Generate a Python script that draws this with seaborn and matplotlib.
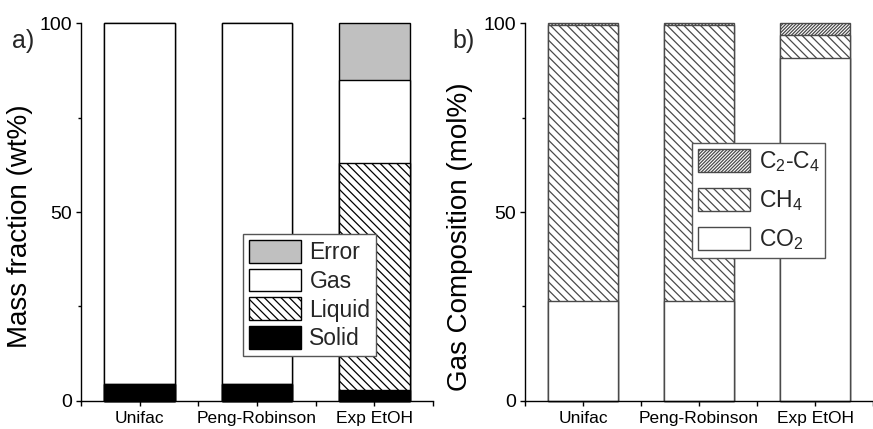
"""
Stacked bar comparison of product distribution (a) and gas composition (b)
for Unifac, Peng-Robinson and the experimental EtOH run.
"""

import matplotlib
matplotlib.use("Agg")
import matplotlib.pyplot as plt
import numpy as np
import seaborn as sns

CATEGORIES = ["Unifac", "Peng-Robinson", "Exp EtOH"]

# panel a) mass fraction (wt%), bottom to top
SOLID = [4.5, 4.5, 2.9]
LIQUID = [0.0, 0.0, 60.1]
GAS = [95.5, 95.5, 22.0]
ERROR = [0.0, 0.0, 15.0]

# panel b) gas composition (mol%), bottom to top
CO2 = [26.5, 26.5, 90.8]
CH4 = [73.1, 73.1, 6.0]
C2_C4 = [0.4, 0.4, 3.2]


def stacked_bars(ax, layers, edge):
    """Draw cumulative totals from the top layer down so each one covers the next."""
    tops = np.cumsum([layer[0] for layer in layers], axis=0)
    for (vals, label, face, hatch), top in reversed(list(zip(layers, tops))):
        sns.barplot(x=CATEGORIES, y=top, ax=ax, color=face, saturation=1,
                    width=0.6, errorbar=None, edgecolor=edge, linewidth=1.0,
                    hatch=hatch, label=label, clip_on=False)


def style_axis(ax, ylabel, label_x, label_y):
    sns.despine(ax=ax)
    ax.set_xlim(-0.5, 2.5)
    ax.set_ylim(0, 100)
    ax.set_yticks([0, 50, 100])
    ax.set_yticks([25, 75], minor=True)
    ax.set_xticks([-0.5, 0.5, 1.5, 2.5], minor=True)
    ax.set_xlabel("")
    ax.set_ylabel(ylabel, fontsize=20, color="black")
    ax.yaxis.set_label_coords(label_x, label_y)
    for side in ("left", "bottom"):
        ax.spines[side].set_color("black")
        ax.spines[side].set_linewidth(1.0)
    ax.tick_params(axis="both", which="both", direction="out", color="black",
                   width=1.0, labelcolor="black")
    ax.tick_params(axis="x", which="both", length=3.6, pad=3.5, labelsize=12.5)
    ax.tick_params(axis="y", which="major", length=3.6, pad=3, labelsize=14)
    ax.tick_params(axis="y", which="minor", length=2.2)


def main():
    sns.set_style("ticks")
    plt.rcParams["font.family"] = ["Liberation Sans", "DejaVu Sans"]
    plt.rcParams["mathtext.fontset"] = "custom"
    plt.rcParams["mathtext.rm"] = "Liberation Sans"
    plt.rcParams["mathtext.it"] = "Liberation Sans:italic"
    plt.rcParams["mathtext.default"] = "regular"
    plt.rcParams["hatch.linewidth"] = 0.9

    fig = plt.figure(figsize=(8.73, 4.29), dpi=100)
    ax_a = fig.add_axes([0.0928, 0.0653, 0.4032, 0.881])
    ax_b = fig.add_axes([0.6014, 0.0653, 0.3986, 0.881])

    stacked_bars(ax_a, [
        (SOLID, "Solid", "black", None),
        (LIQUID, "Liquid", "white", "\\\\\\\\"),
        (GAS, "Gas", "white", None),
        (ERROR, "Error", "#c0c0c0", None),
    ], edge="black")

    stacked_bars(ax_b, [
        (CO2, "CO$_2$", "white", None),
        (CH4, "CH$_4$", "white", "\\\\\\\\"),
        (C2_C4, "C$_2$-C$_4$", "white", "//////////"),
    ], edge="#4a4a4a")

    style_axis(ax_a, "Mass fraction (wt%)", -0.136, 0.463)
    style_axis(ax_b, "Gas Composition (mol%)", -0.149, 0.434)

    for ax, anchor, spacing in ((ax_a, (0.46, 0.119), 0.2), (ax_b, (0.48, 0.378), 0.62)):
        handles, labels = ax.get_legend_handles_labels()
        leg = ax.legend(handles, labels, loc="lower left", bbox_to_anchor=anchor,
                        borderaxespad=0, fontsize=16.5, handlelength=2.3,
                        handleheight=1.15, labelspacing=spacing,
                        handletextpad=0.35, borderpad=0.25, fancybox=False,
                        framealpha=1, edgecolor="#555555")
        leg.get_frame().set_linewidth(1.0)

    fig.text(0.0137, 0.888, "a)", fontsize=18, va="baseline")
    fig.text(0.518, 0.888, "b)", fontsize=18, va="baseline")

    fig.savefig("out.png", dpi=100)
    plt.close(fig)


if __name__ == "__main__":
    main()
